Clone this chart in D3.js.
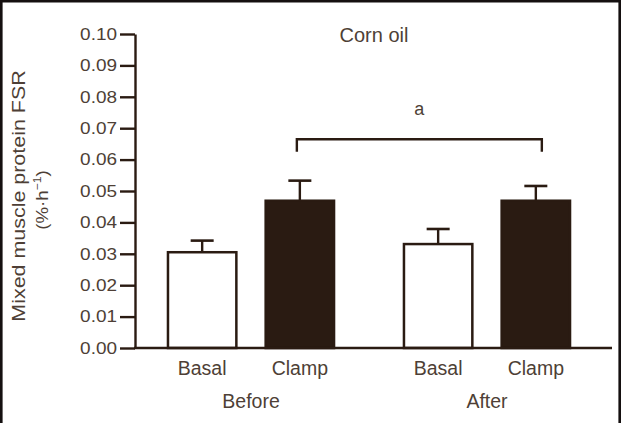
<!DOCTYPE html>
<html>
<head>
<meta charset="utf-8">
<script src="https://cdn.jsdelivr.net/npm/d3@7"></script>
<style>
  body { margin: 0; background: #fff; }
  text { font-family: "Liberation Sans", Arial, sans-serif; fill: #4e3f36; }
</style>
</head>
<body>
<div id="chart"></div>
<script>
(function() {
    var width = 621,
        height = 423;

    // data
    var groups = ["Before", "After"];
    var conditions = ["Basal", "Clamp"];
    var means = [0.0305, 0.0469, 0.0331, 0.0469];   // Before-Basal, Before-Clamp, After-Basal, After-Clamp
    var errors = [0.0037, 0.0064, 0.0048, 0.0047];
    var yTicks = [0, 0.01, 0.02, 0.03, 0.04, 0.05, 0.06, 0.07, 0.08, 0.09, 0.10];
    var bracketLevel = 0.0665, bracketDrop = 0.004;

    var dark = "#2a1b12";

    var svg = d3.select("#chart")
        .append("svg")
        .attr("width", width)
        .attr("height", height);

    // frame
    svg.append("path")
        .attr("d", "M1.3," + height + "V1.3H619.7V" + height)
        .attr("fill", "none")
        .attr("stroke", "#151010")
        .attr("stroke-width", 2.6);

    var y = d3.scaleLinear().domain([0, 0.1]).range([348, 34]);

    var xGroup = d3.scaleBand().domain(groups)
        .range([135, 603]).paddingInner(0.288).paddingOuter(0.1356);
    var xCond = d3.scaleBand().domain(conditions)
        .range([0, xGroup.bandwidth()]).paddingInner(0.3).paddingOuter(0.01);

    var bars = [];
    groups.forEach(function(g, i) {
        conditions.forEach(function(c, j) {
            bars.push({group: g, cond: c, mean: means[i * 2 + j], err: errors[i * 2 + j]});
        });
    });
    function cx(d) { return xGroup(d.group) + xCond(d.cond) + xCond.bandwidth() / 2; }

    // error bars (drawn behind the bars)
    var eb = svg.append("g").attr("stroke", dark).attr("stroke-width", 2.4);
    eb.selectAll(".stem").data(bars).enter().append("line")
        .attr("x1", cx).attr("x2", cx)
        .attr("y1", function(d) { return y(d.mean); })
        .attr("y2", function(d) { return y(d.mean + d.err); });
    eb.selectAll(".cap").data(bars).enter().append("line")
        .attr("x1", function(d) { return cx(d) - 11.5; })
        .attr("x2", function(d) { return cx(d) + 11.5; })
        .attr("y1", function(d) { return y(d.mean + d.err); })
        .attr("y2", function(d) { return y(d.mean + d.err); })
        .attr("stroke-width", 2.6);

    // bars
    svg.selectAll(".bar").data(bars).enter().append("rect")
        .attr("class", "bar")
        .attr("x", function(d) { return xGroup(d.group) + xCond(d.cond); })
        .attr("width", xCond.bandwidth())
        .attr("y", function(d) { return y(d.mean); })
        .attr("height", function(d) { return y(0) - y(d.mean); })
        .attr("fill", function(d) { return d.cond === "Clamp" ? dark : "#fff"; })
        .attr("stroke", dark)
        .attr("stroke-width", 2.5);

    // y axis
    var yAxis = svg.append("g")
        .attr("transform", "translate(135,0)")
        .call(d3.axisLeft(y).tickValues(yTicks).tickFormat(d3.format(".2f"))
            .tickSize(15).tickSizeOuter(0).tickPadding(3));
    yAxis.select(".domain").attr("stroke", dark).attr("stroke-width", 2.4);
    yAxis.selectAll(".tick line").attr("stroke", dark).attr("stroke-width", 2.4);
    yAxis.selectAll(".tick text")
        .attr("x", -18 / 1.15)
        .attr("transform", "scale(1.15,1)")
        .style("font-size", "16.5px")
        .style("font-family", "'Liberation Sans', Arial, sans-serif")
        .attr("fill", "#4e3f36");

    // baseline
    svg.append("line")
        .attr("x1", 134).attr("x2", 612)
        .attr("y1", y(0)).attr("y2", y(0))
        .attr("stroke", dark).attr("stroke-width", 2.6);

    // category labels
    svg.selectAll(".cond").data(bars).enter().append("text")
        .attr("x", cx).attr("y", 375)
        .attr("text-anchor", "middle")
        .style("font-size", "19.5px")
        .text(function(d) { return d.cond; });
    svg.selectAll(".grp").data(groups).enter().append("text")
        .attr("x", function(g) { return xGroup(g) + xGroup.bandwidth() / 2; })
        .attr("y", 408)
        .attr("text-anchor", "middle")
        .style("font-size", "19.5px")
        .text(function(g) { return g; });

    // title
    svg.append("text")
        .attr("x", 374).attr("y", 42)
        .attr("text-anchor", "middle")
        .style("font-size", "20px")
        .text("Corn oil");

    // significance bracket between the two clamp bars
    var bx1 = cx(bars[1]) - 3, bx2 = cx(bars[3]) + 6;
    svg.append("path")
        .attr("d", "M" + bx1 + "," + y(bracketLevel - bracketDrop) +
              "V" + y(bracketLevel) + "H" + bx2 + "V" + y(bracketLevel - bracketDrop))
        .attr("fill", "none")
        .attr("stroke", dark)
        .attr("stroke-width", 2.4);
    svg.append("text")
        .attr("x", (bx1 + bx2) / 2).attr("y", 115)
        .attr("text-anchor", "middle")
        .style("font-size", "18px")
        .text("a");

    // y label
    svg.append("text")
        .attr("transform", "translate(25,196) rotate(-90) scale(1.16,1)")
        .attr("text-anchor", "middle")
        .style("font-size", "18.5px")
        .text("Mixed muscle protein FSR");
    var l2 = svg.append("text")
        .attr("transform", "translate(48,200) rotate(-90) scale(1.1,1)")
        .attr("text-anchor", "middle")
        .style("font-size", "17px");
    l2.append("tspan").text("(%\u00b7h");
    l2.append("tspan").attr("dy", -7).style("font-size", "11px").text("\u22121");
    l2.append("tspan").attr("dy", 7).text(")");
})();
</script>
</body>
</html>
